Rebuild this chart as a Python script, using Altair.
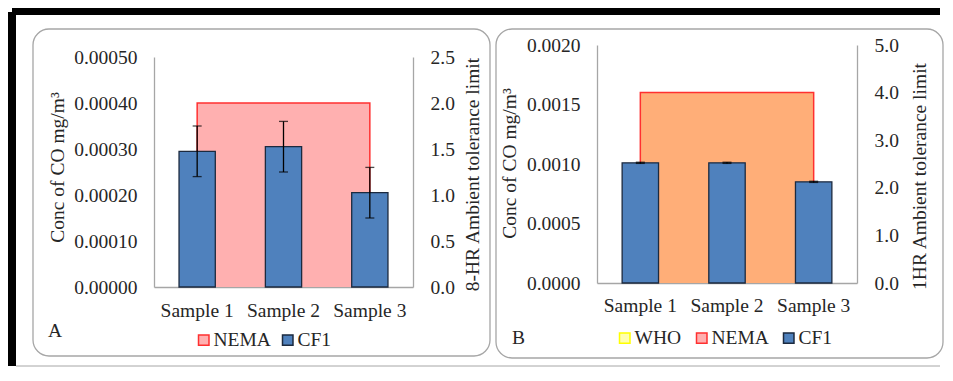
import altair as alt
import pandas as pd

FONT = "Liberation Serif"
FS = 19.5
TXT = "#262626"
AXC = "#a6a6a6"
BOXC = "#a6a6a6"

samples = ["Sample 1", "Sample 2", "Sample 3"]

# Panel A (8-HR)
a_mean = [0.000295, 0.000305, 0.000205]
a_lo = [0.000240, 0.000250, 0.000150]
a_hi = [0.000350, 0.000360, 0.000260]
a_limit = 2.0
a_left_ticks = [0.0, 0.0001, 0.0002, 0.0003, 0.0004, 0.0005]
a_right_ticks = [0.0, 0.5, 1.0, 1.5, 2.0, 2.5]

# Panel B (1HR)
b_mean = [0.00101, 0.00101, 0.00085]
b_lo = [0.001005, 0.001005, 0.000845]
b_hi = [0.001015, 0.001015, 0.000855]
b_limit = 4.0
b_left_ticks = [0.0, 0.0005, 0.0010, 0.0015, 0.0020]
b_right_ticks = [0.0, 1.0, 2.0, 3.0, 4.0, 5.0]

a_series = ["NEMA", "CF1"]
a_fill = ["#ffb0b0", "#4f81bd"]
a_stroke = ["#ff3030", "#1c2a3f"]
b_series = ["WHO", "NEMA", "CF1"]
b_fill = ["#ffffb0", "#ffb0b0", "#4f81bd"]
b_stroke = ["#ffff00", "#ff3030", "#1c2a3f"]


def panel(mean, lo, hi, limit, left_ticks, left_fmt, right_ticks, right_title,
          area_color, series, fills, strokes, W, H, rng, lay):
    bars_df = pd.DataFrame({"sample": samples, "mean": mean, "lo": lo, "hi": hi,
                            "series": ["CF1"] * 3})
    area_df = pd.DataFrame({"sample": samples, "v": [limit] * 3})
    line_df = pd.DataFrame({"sample": [samples[0], samples[0], samples[2], samples[2]],
                            "v": [0.0, limit, limit, 0.0], "o": [0, 1, 2, 3]})
    one = pd.DataFrame({"k": [0]})

    xaxis = alt.Axis(title=None, labelFont=FONT, labelFontSize=FS, labelColor=TXT,
                     labelAngle=0, labelAlign="center", labelBaseline="top",
                     ticks=False, tickSize=0, labelPadding=lay["xpad"],
                     domainColor=AXC, domainWidth=1.3, grid=False)
    xscale = alt.Scale(paddingInner=0.58, paddingOuter=0.29)

    def X():
        return alt.X("sample:N", sort=samples, scale=xscale, axis=xaxis)

    ltitle = "Conc of CO mg/m³"
    left_axis = alt.Axis(values=left_ticks, format=left_fmt, grid=False, ticks=False, tickSize=0,
                         labelFont=FONT, labelFontSize=FS, labelColor=TXT, labelPadding=17,
                         domainColor=AXC, domainWidth=1.3,
                         title=ltitle, titleFont=FONT, titleFontSize=FS,
                         titleFontWeight="normal", titleColor=TXT, titleAngle=270,
                         titleBaseline="middle", titleX=lay["ltx"], titleY=lay["lty"])
    right_axis = alt.Axis(orient="right", values=right_ticks, format=".1f", grid=False,
                          ticks=False, tickSize=0,
                          labelFont=FONT, labelFontSize=FS, labelColor=TXT, labelPadding=17,
                          domainColor=AXC, domainWidth=1.3,
                          title=right_title, titleFont=FONT, titleFontSize=FS,
                          titleFontWeight="normal", titleColor=TXT, titleAngle=270,
                          titleBaseline="middle", titleX=lay["rtx"], titleY=lay["rty"])

    lscale = alt.Scale(domain=[0, left_ticks[-1]], range=rng, nice=False)
    rscale = alt.Scale(domain=[0, right_ticks[-1]], range=rng, nice=False)

    def YL(f):
        return alt.Y(f, scale=lscale, axis=left_axis, title=ltitle)

    def YR(f):
        return alt.Y(f, scale=rscale, axis=right_axis, title=right_title)

    legend = alt.Legend(title=None, orient="none", legendX=lay["lgx"], legendY=lay["lgy"],
                        direction="horizontal", symbolType="square", symbolSize=110,
                        symbolStrokeWidth=1.5, labelFont=FONT, labelFontSize=FS,
                        labelColor=TXT, labelOffset=0, columnPadding=lay["lgpad"],
                        padding=0)

    bars = alt.Chart(bars_df).mark_bar(strokeWidth=1.3).encode(
        x=X(),
        y=YL("mean:Q"),
        fill=alt.Fill("series:N", scale=alt.Scale(domain=series, range=fills), legend=legend),
        stroke=alt.Stroke("series:N", scale=alt.Scale(domain=series, range=strokes), legend=legend),
    )
    err = alt.Chart(bars_df).mark_rule(color="black", strokeWidth=1.3).encode(
        x=X(), y=YL("lo:Q"), y2="hi:Q")
    cap_hi = alt.Chart(bars_df).mark_tick(color="black", thickness=1.3, size=9).encode(
        x=X(), y=YL("hi:Q"))
    cap_lo = alt.Chart(bars_df).mark_tick(color="black", thickness=1.3, size=9).encode(
        x=X(), y=YL("lo:Q"))
    left_layer = alt.layer(bars, err, cap_hi, cap_lo)

    area = alt.Chart(area_df).mark_area(color=area_color, opacity=1).encode(
        x=X(), y=YR("v:Q"))
    line = alt.Chart(line_df).mark_line(color="#ff3030", strokeWidth=1.5).encode(
        x=X(), y=YR("v:Q"), order="o:Q")
    right_layer = alt.layer(area, line)

    bx = lay["box"]
    box = alt.Chart(one).mark_rect(filled=False, stroke=BOXC, strokeWidth=1.3,
                                   cornerRadius=16).encode(
        x=alt.value(bx[0]), x2=alt.value(bx[1]), y=alt.value(bx[2]), y2=alt.value(bx[3]))
    letter = alt.Chart(one).mark_text(text=lay["letter"], font=FONT, fontSize=FS, color=TXT,
                                      align="left", baseline="middle").encode(
        x=alt.value(lay["ltr"][0]), y=alt.value(lay["ltr"][1]))

    layers = [box, right_layer, left_layer, letter]
    if lay.get("frame"):
        left_band = alt.Chart(one).mark_rule(color="black", strokeWidth=8).encode(
            x=alt.value(-142), y=alt.value(-33), y2=alt.value(321))
        top_band = alt.Chart(one).mark_rule(color="black", strokeWidth=7).encode(
            x=alt.value(-142), x2=alt.value(786), y=alt.value(-33.5))
        bottom = alt.Chart(one).mark_rule(color="#a6a6a6", strokeWidth=1).encode(
            x=alt.value(-138), x2=alt.value(786), y=alt.value(321))
        layers += [left_band, top_band, bottom]

    return alt.layer(*layers).resolve_scale(y="independent").properties(
        width=W, height=H,
        view=alt.ViewBackground(stroke="transparent", strokeWidth=0))


pa = panel(a_mean, a_lo, a_hi, a_limit, a_left_ticks, ".5f", a_right_ticks,
           "8-HR Ambient tolerance limit", "#ffb0b0", a_series, a_fill, a_stroke,
           259, 242, [242, 12],
           dict(xpad=14, ltx=-97, lty=122, rtx=59, rty=129, lgx=40, lgy=285, lgpad=7,
                box=(-121, 336, -16, 311), letter="A", ltr=(-106, 286), frame=True))
pb = panel(b_mean, b_lo, b_hi, b_limit, b_left_ticks, ".4f", b_right_ticks,
           "1HR Ambient tolerance limit", "#ffae78", b_series, b_fill, b_stroke,
           260, 238, [238, 0],
           dict(xpad=13, ltx=-88, lty=118, rtx=62, rty=131, lgx=18, lgy=283, lgpad=10,
                box=(-101, 346, -16, 313), letter="B", ltr=(-85, 293)))

chart = alt.hconcat(pa, pb, spacing=184, bounds="flush").resolve_scale(
    fill="independent", stroke="independent").properties(
    padding=0, background="white").configure_view(stroke="transparent", strokeWidth=0)

chart.save("out.html", embed_options={"renderer": "svg", "actions": False})
